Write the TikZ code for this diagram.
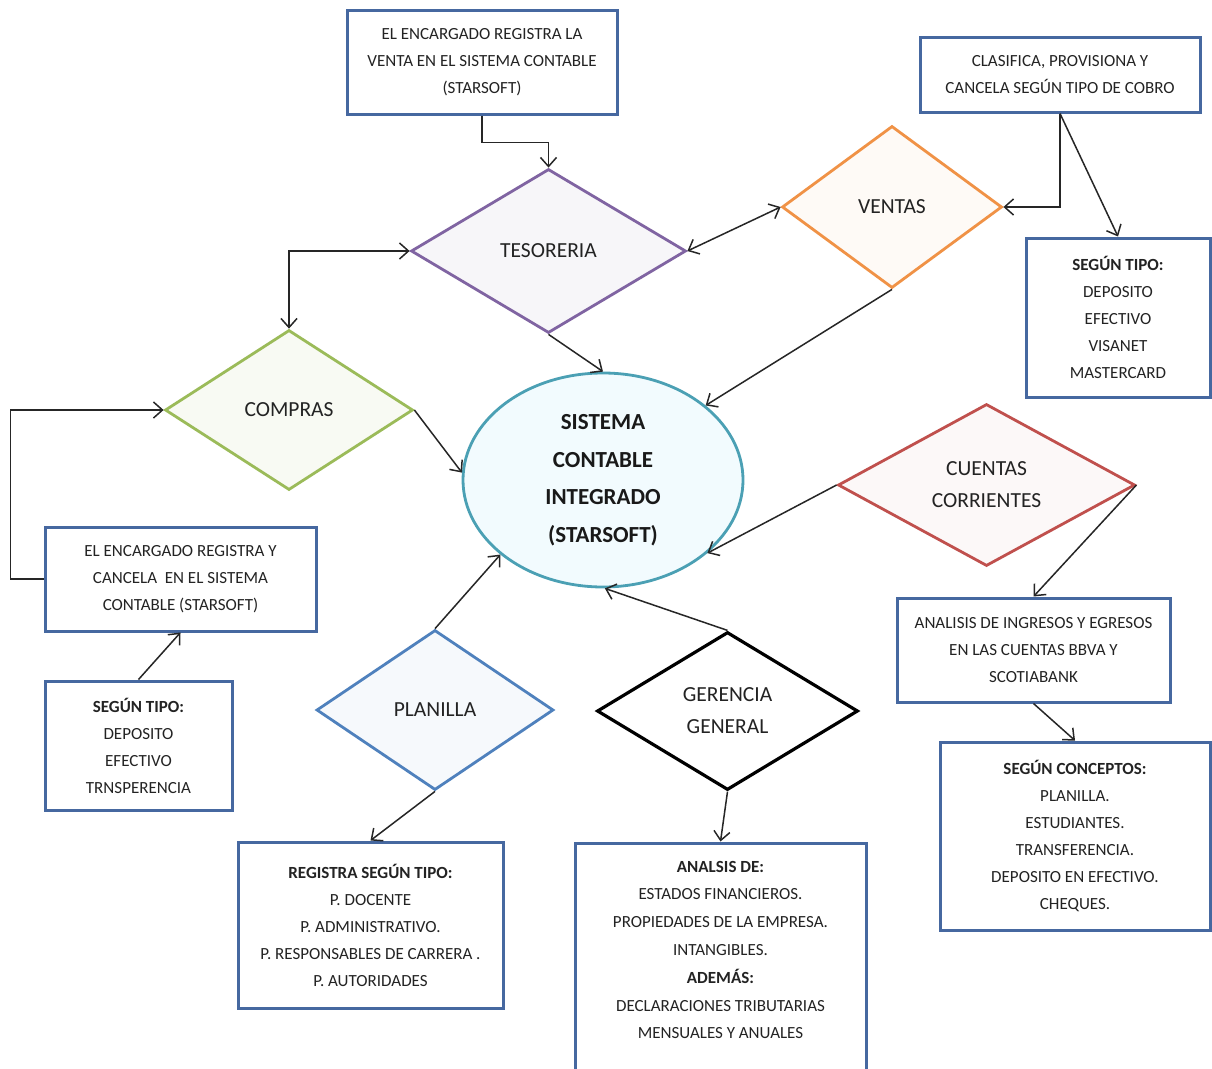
\documentclass[tikz,border=0pt]{standalone}
\usepackage{fontspec}
\setmainfont{Carlito}
\usetikzlibrary{shapes.geometric,arrows.meta}
\definecolor{boxblue}{RGB}{70,104,160}
\definecolor{txt}{RGB}{35,35,35}
\definecolor{tesc}{RGB}{128,100,162}
\definecolor{venc}{RGB}{240,146,70}
\definecolor{compc}{RGB}{155,187,89}
\definecolor{ccc}{RGB}{192,80,77}
\definecolor{plac}{RGB}{79,129,189}
\definecolor{elc}{RGB}{75,160,180}
\begin{document}
\begin{tikzpicture}[x=1pt,y=-1pt,
  tbox/.style={draw=boxblue, line width=3pt, fill=white, align=center, text=txt,
    font=\fontsize{17}{27}\selectfont, inner sep=0pt},
  dia/.style={shape=diamond, line width=2.8pt, align=center, text=txt, inner sep=0pt,
    font=\fontsize{21.5}{32}\selectfont},
  conn/.style={draw=black!85, line width=1.5pt},
  tip/.style={-{Straight Barb[length=9pt,width=16pt,line width=1.5pt]}},
  tips/.style={{Straight Barb[length=9pt,width=16pt,line width=1.5pt]}-{Straight Barb[length=9pt,width=16pt,line width=1.5pt]}}
]
\useasboundingbox (0,0) rectangle (1212,1068);
\clip (0,0) rectangle (1212,1068);
\fill[white] (0,0) rectangle (1212,1068);

% boxes
\node[tbox, minimum width=270pt, minimum height=104pt] (box1) at (482,62)
  {EL ENCARGADO REGISTRA LA\\VENTA EN EL SISTEMA CONTABLE\\(STARSOFT)};
\node[tbox, minimum width=280pt, minimum height=75pt] (clas) at (1060,74.5)
  {CLASIFICA, PROVISIONA Y\\CANCELA SEGÚN TIPO DE COBRO};
\node[tbox, minimum width=184pt, minimum height=159pt] (st1) at (1118,317.5)
  {\textbf{SEGÚN TIPO:}\\DEPOSITO\\EFECTIVO\\VISANET\\MASTERCARD};
\node[tbox, minimum width=271pt, minimum height=104pt] (lbox) at (180.5,579)
  {EL ENCARGADO REGISTRA Y\\CANCELA\ \ EN EL SISTEMA\\CONTABLE (STARSOFT)};
\node[tbox, minimum width=187pt, minimum height=129pt] (st2) at (138.5,745.5)
  {\textbf{SEGÚN TIPO:}\\DEPOSITO\\EFECTIVO\\TRNSPERENCIA};
\node[tbox, minimum width=273pt, minimum height=104pt] (abox) at (1033.5,650)
  {ANALISIS DE INGRESOS Y EGRESOS\\EN LAS CUENTAS BBVA Y\\SCOTIABANK};
\node[tbox, minimum width=270pt, minimum height=188pt] (cbox) at (1075,836)
  {\textbf{SEGÚN CONCEPTOS:}\\PLANILLA.\\ESTUDIANTES.\\TRANSFERENCIA.\\DEPOSITO EN EFECTIVO.\\CHEQUES.};
\node[tbox, minimum width=265pt, minimum height=166pt] (rbox) at (370.5,925)
  {\textbf{REGISTRA SEGÚN TIPO:}\\P. DOCENTE\\P. ADMINISTRATIVO.\\P. RESPONSABLES DE CARRERA .\\P. AUTORIDADES};
\node[tbox, minimum width=291pt, minimum height=247pt] (gbox) at (720.5,966.5) {};
\node[align=center, text=txt, font=\fontsize{17}{27.8}\selectfont, inner sep=0pt] (gtxt) at (720.5,950)
  {\textbf{ANALSIS DE:}\\ESTADOS FINANCIEROS.\\PROPIEDADES DE LA EMPRESA.\\INTANGIBLES.\\\textbf{ADEMÁS:}\\DECLARACIONES TRIBUTARIAS\\MENSUALES Y ANUALES};

% diamonds
\node[dia, draw=tesc, fill=tesc!6, minimum width=275pt, minimum height=164pt] (tes) at (548.5,251) {TESORERIA};
\node[dia, draw=venc, fill=venc!5, minimum width=220pt, minimum height=162pt] (ven) at (892,207) {VENTAS};
\node[dia, draw=compc, fill=compc!7, minimum width=248pt, minimum height=160pt] (comp) at (289,410) {COMPRAS};
\node[dia, draw=ccc, fill=ccc!4, minimum width=297pt, minimum height=162pt] (cc) at (986.5,485) {CUENTAS\\CORRIENTES};
\node[dia, draw=plac, fill=plac!5, minimum width=237pt, minimum height=160pt] (pla) at (435,710) {PLANILLA};
\node[dia, draw=black, fill=white, line width=3.2pt, minimum width=261pt, minimum height=158pt] (ger) at (727.5,711) {GERENCIA\\GENERAL};

% central ellipse
\node[shape=ellipse, draw=elc, line width=2.8pt, fill=cyan!5, minimum width=280pt, minimum height=214pt,
  align=center, text=black!90, font=\bfseries\fontsize{23}{37.5}\selectfont, inner sep=0pt] (sis) at (603,480)
  {SISTEMA\\CONTABLE\\INTEGRADO\\(STARSOFT)};

% connectors
\draw[conn, tip] (box1.south) -- ++(0,27) -| (tes.north);
\draw[conn, tips] (tes.east) -- (ven.west);
\draw[conn, tips] (comp.north) |- (tes.west);
\draw[conn, tip] (clas.south) |- (ven.east);
\draw[conn, tip] (clas.south) -- (st1.north);
\draw[conn, tip] (tes.south) -- (sis.north);
\draw[conn, tip] (ven.south) -- (sis.36);
\draw[conn, tip] (comp.east) -- (sis.177);
\draw[conn, tip] (cc.west) -- (sis.-35);
\draw[conn, tip] (pla.north) -- (sis.-144);
\draw[conn, tip] (ger.north) -- (sis.-89);
\draw[conn, tip] (cc.east) -- (abox.north);
\draw[conn, tip] (abox.south) -- (cbox.north);
\draw[conn, tip] (pla.south) -- (rbox.north);
\draw[conn, tip] (ger.south) -- (gbox.north);
\draw[conn, tip] (lbox.west) -- ++(-33,0) |- (comp.west);
\draw[conn, tip] (st2.north) -- (lbox.south);
\end{tikzpicture}
\end{document}
